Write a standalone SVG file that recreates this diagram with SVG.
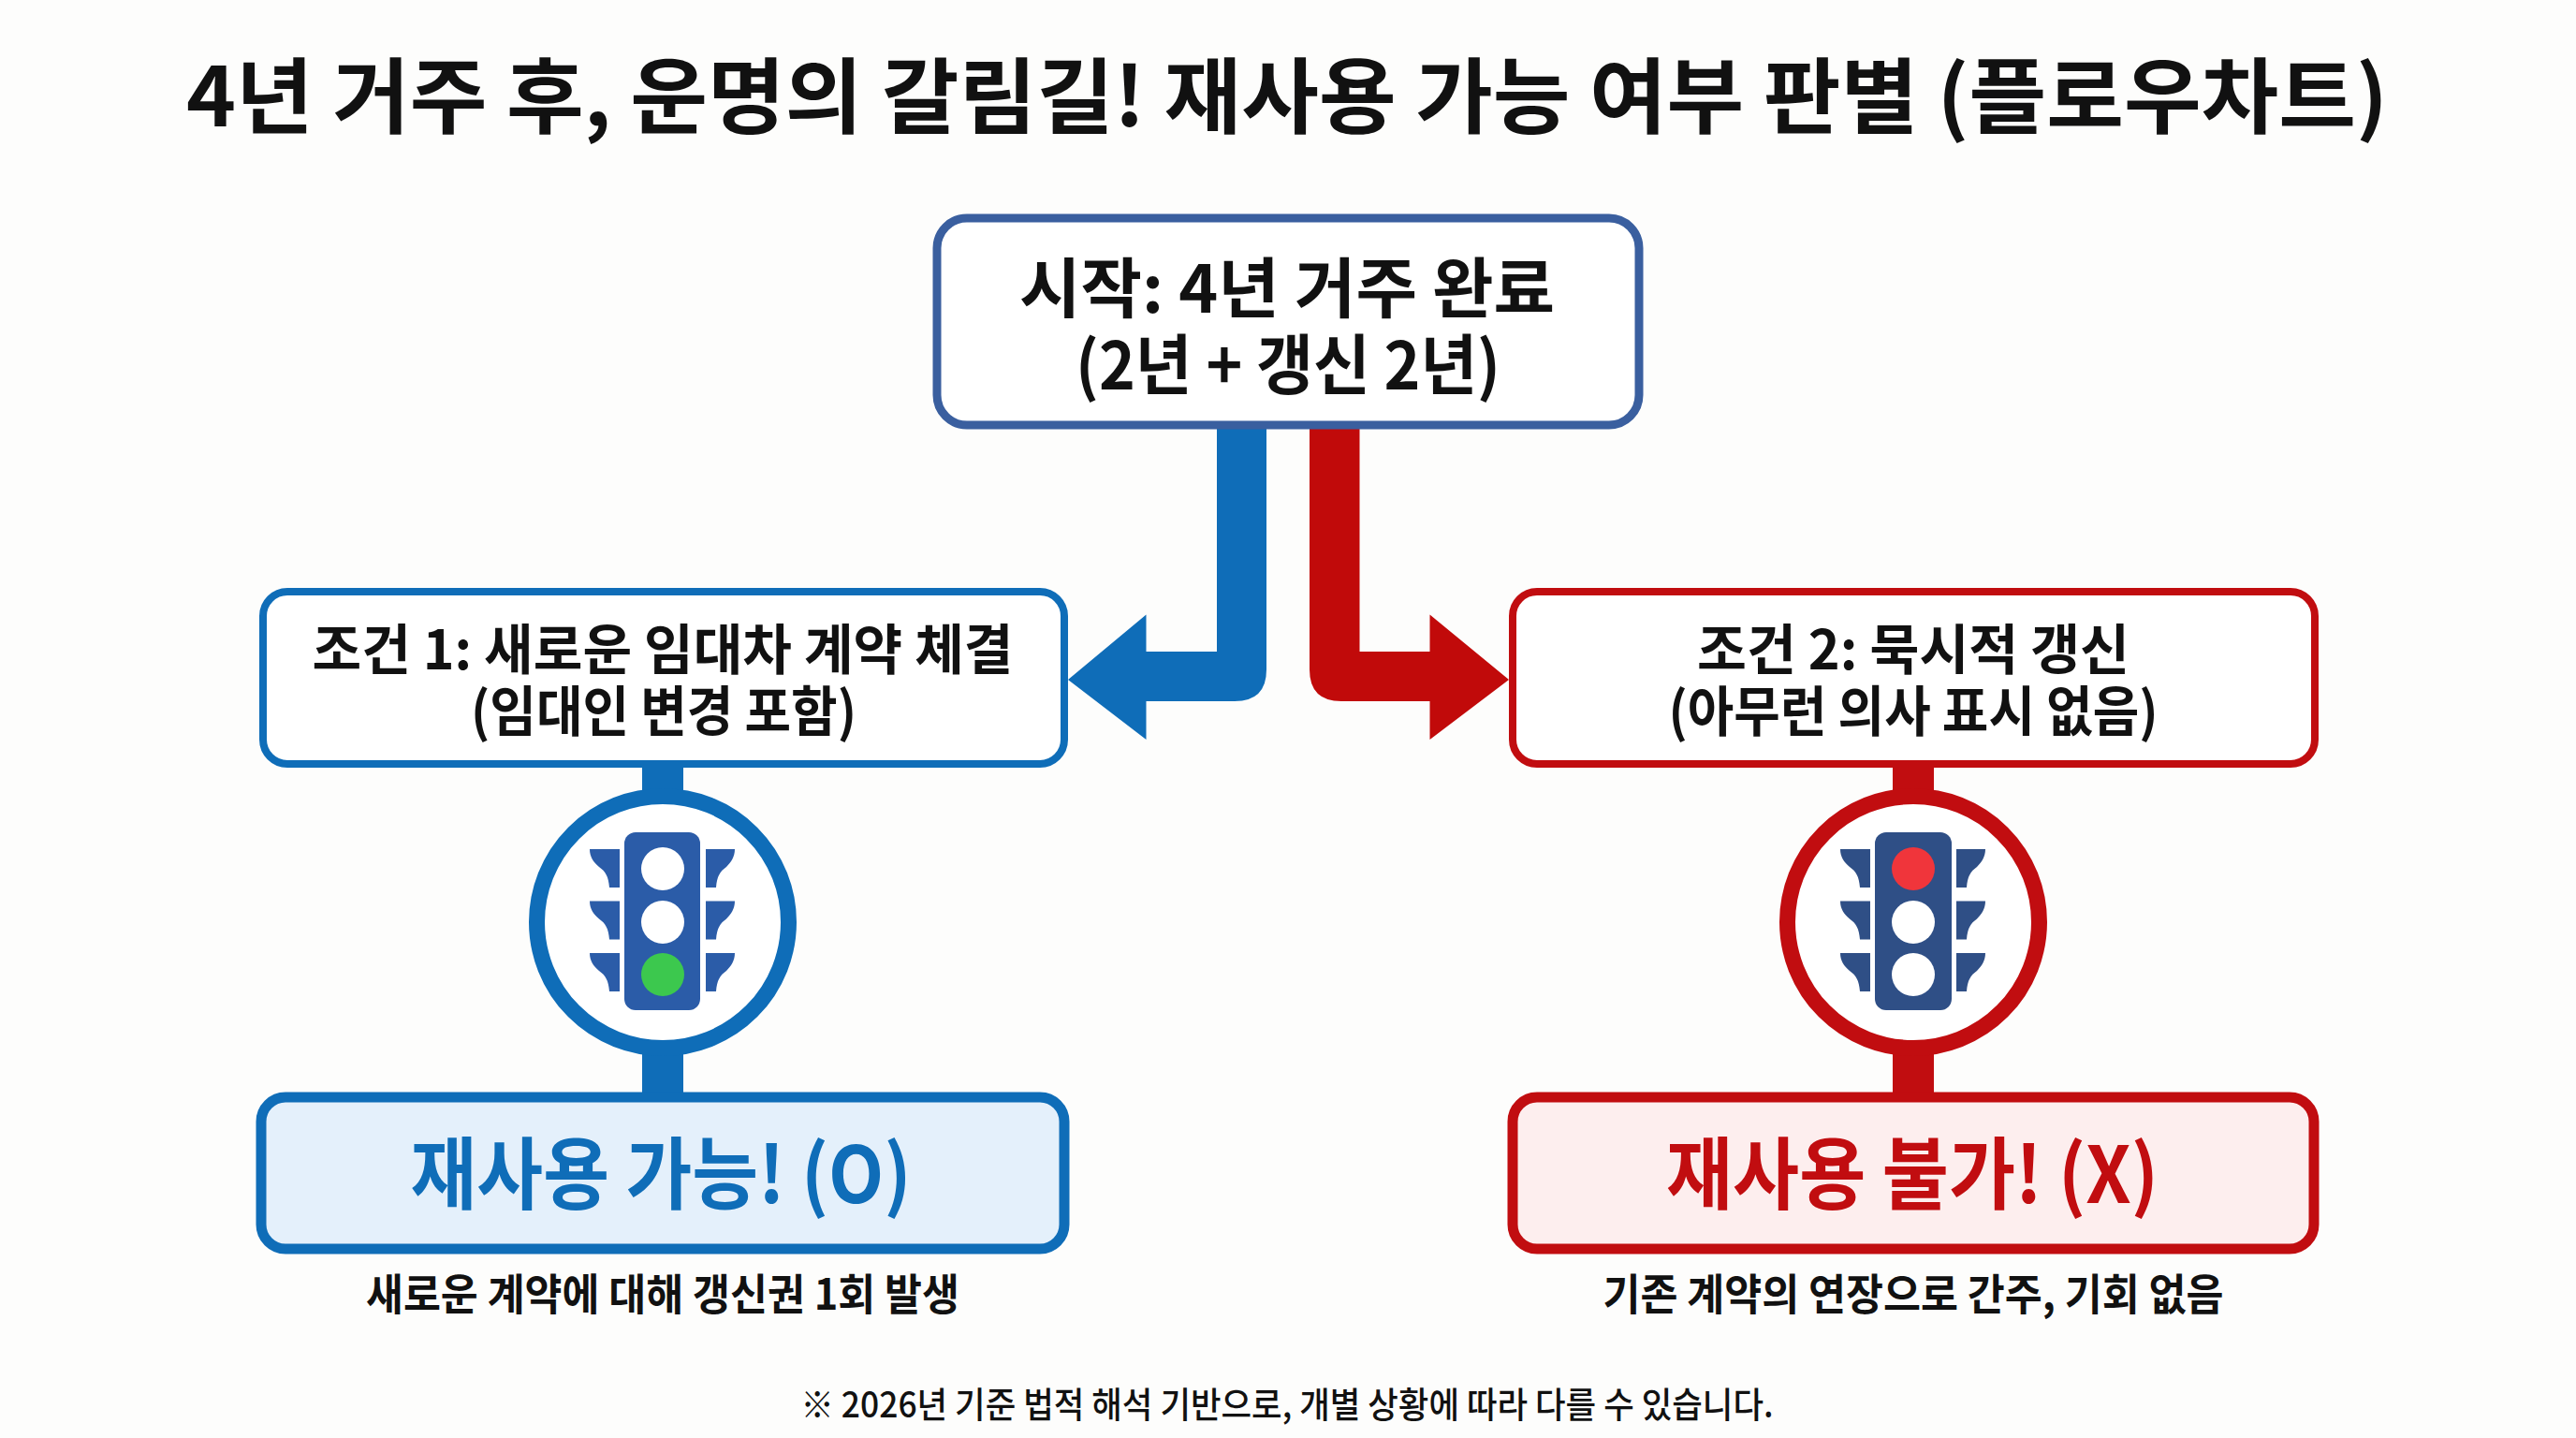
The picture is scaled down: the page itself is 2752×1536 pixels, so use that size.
<svg xmlns="http://www.w3.org/2000/svg" xmlns:xlink="http://www.w3.org/1999/xlink" width="2752" height="1536" viewBox="0 0 2752 1536">
<style>
text{font-family:"Noto Sans CJK KR","Noto Sans",sans-serif;font-weight:700;fill:#111;text-anchor:middle}
.box{fill:#fff}
.blue{stroke:#0f6db8}
.red{stroke:#c10d10}
.ring{fill:#fff;stroke-width:17}
.lamp{fill:#fff}
</style>
<defs>
<path id="wl" d="M630 907H662V948H651C650 936 647 931 640 926C634 921 630 915 630 907Z"/>
<path id="wr" d="M785 907H754V948H765C766 936 769 931 776 926C781 921 785 915 785 907Z"/>
<g id="wings"><use xlink:href="#wl"/><use xlink:href="#wl" y="55.5"/><use xlink:href="#wl" y="111"/><use xlink:href="#wr"/><use xlink:href="#wr" y="55.5"/><use xlink:href="#wr" y="111"/></g>
</defs>
<rect width="2752" height="1536" fill="#fdfdfc"/>
<text id="title" x="1375" y="135" font-size="88" textLength="2352" lengthAdjust="spacingAndGlyphs">4년 거주 후, 운명의 갈림길! 재사용 가능 여부 판별 (플로우차트)</text>
<g id="connectors">
<path fill="#0f6db8" d="M1300 450H1353V715Q1353 749 1319 749H1224.500V790L1141 726L1224.500 656.500V696H1300Z"/>
<path fill="#c10a0a" d="M1399 450H1452.500V696H1527.500V656.500L1612 726L1527.500 790V749H1433Q1399 749 1399 715Z"/>
<rect x="686" y="815" width="44" height="355" fill="#0f6db8"/>
<rect x="2022" y="815" width="44" height="355" fill="#c10d10"/>
</g>
<g id="start">
<rect x="1001" y="233" width="750" height="221" rx="32" class="box" stroke="#3a5f9f" stroke-width="9"/>
<text font-size="70"><tspan x="1375" y="334" textLength="572" lengthAdjust="spacingAndGlyphs">시작: 4년 거주 완료</tspan><tspan x="1376" y="416" textLength="454" lengthAdjust="spacingAndGlyphs">(2년 + 갱신 2년)</tspan></text>
</g>
<g id="cond1">
<rect x="281" y="632" width="856" height="184" rx="26" class="box blue" stroke-width="8"/>
<text font-size="58"><tspan x="708" y="715" textLength="749" lengthAdjust="spacingAndGlyphs">조건 1: 새로운 임대차 계약 체결</tspan><tspan x="709" y="781" textLength="412" lengthAdjust="spacingAndGlyphs">(임대인 변경 포함)</tspan></text>
</g>
<g id="cond2">
<rect x="1616" y="632" width="857" height="184" rx="26" class="box red" stroke-width="8"/>
<text font-size="58"><tspan x="2044" y="715" textLength="462" lengthAdjust="spacingAndGlyphs">조건 2: 묵시적 갱신</tspan><tspan x="2044" y="781" textLength="523" lengthAdjust="spacingAndGlyphs">(아무런 의사 표시 없음)</tspan></text>
</g>
<g id="light1">
<circle cx="708" cy="985" r="134.500" class="ring blue"/>
<g fill="#2b5ca8"><use xlink:href="#wings"/><rect x="667" y="889" width="81" height="190" rx="12"/></g>
<circle cx="708" cy="928" r="23" class="lamp"/><circle cx="708" cy="985" r="23" class="lamp"/><circle cx="708" cy="1041" r="23" fill="#3cc84e"/>
</g>
<g id="light2">
<circle cx="2044" cy="985" r="134.500" class="ring red"/>
<g fill="#2f4f86"><use xlink:href="#wings" x="1336"/><rect x="2003" y="889" width="82" height="190" rx="12"/></g>
<circle cx="2044" cy="928" r="23" fill="#f0353b"/><circle cx="2044" cy="985" r="23" class="lamp"/><circle cx="2044" cy="1041" r="23" class="lamp"/>
</g>
<g id="result1">
<rect x="279" y="1172" width="858" height="162" rx="26" fill="#e4f0fb" class="blue" stroke-width="11"/>
<text x="706" y="1285" font-size="84" textLength="535" lengthAdjust="spacingAndGlyphs" style="fill:#0f6db8">재사용 가능! (O)</text>
<text x="708" y="1399" font-size="46" textLength="634" lengthAdjust="spacingAndGlyphs">새로운 계약에 대해 갱신권 1회 발생</text>
</g>
<g id="result2">
<rect x="1616" y="1172" width="856" height="162" rx="26" fill="#fdeeee" class="red" stroke-width="11"/>
<text x="2043" y="1285" font-size="84" textLength="526" lengthAdjust="spacingAndGlyphs" style="fill:#c10d10">재사용 불가! (X)</text>
<text x="2044" y="1399" font-size="46" textLength="663" lengthAdjust="spacingAndGlyphs">기존 계약의 연장으로 간주, 기회 없음</text>
</g>
<text id="note" x="1375" y="1514" font-size="38" textLength="1039" lengthAdjust="spacingAndGlyphs" style="font-weight:500">※ 2026년 기준 법적 해석 기반으로, 개별 상황에 따라 다를 수 있습니다.</text>
</svg>
